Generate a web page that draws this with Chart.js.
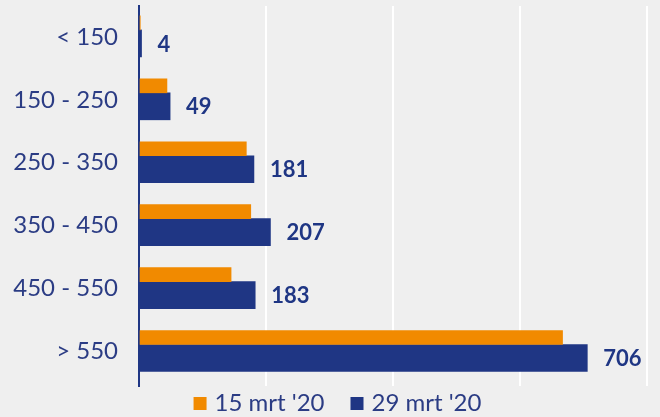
<!DOCTYPE html>
<html>
<head>
<meta charset="utf-8">
<script src="https://cdn.jsdelivr.net/npm/chart.js@4.4.1/dist/chart.umd.min.js"></script>
<style>
  html, body { margin: 0; padding: 0; background: #efefef; }
</style>
</head>
<body>
<canvas id="grafico" width="660" height="417"></canvas>
<script>
// categorias e series
const categorias = ['< 150', '150 - 250', '250 - 350', '350 - 450', '450 - 550', '> 550'];
const nomesSeries = ["15 mrt '20", "29 mrt '20"];
const valores15mrt = [2, 44, 169, 176, 145, 667];
const valores29mrt = [4, 49, 181, 207, 183, 706];
const ticksEixoX = [0, 200, 400, 600, 800];

const corLaranja = '#f18a00';
const corAzul = '#1f3684';
const corTexto = '#2b3c84';

// rotulos com os valores ao lado das barras azuis
const rotulosPlugin = {
  id: 'rotulos',
  afterDatasetsDraw(chart) {
    const ctx = chart.ctx;
    const meta = chart.getDatasetMeta(1);
    ctx.save();
    ctx.font = 'bold 22px Lato';
    ctx.fillStyle = corAzul;
    ctx.textAlign = 'left';
    ctx.textBaseline = 'middle';
    meta.data.forEach(function (barra, i) {
      ctx.fillText(valores29mrt[i], barra.x + 16, barra.y + 1);
    });
    ctx.restore();
  }
};

// legenda desenhada a mao para acertar os espacamentos
const legendaPlugin = {
  id: 'legenda',
  afterDraw(chart) {
    const ctx = chart.ctx;
    ctx.save();
    ctx.font = '24px Lato';
    ctx.textBaseline = 'middle';
    const itens = chart.data.datasets.map(function (ds) {
      return { texto: ds.label, cor: ds.backgroundColor, largura: ctx.measureText(ds.label).width };
    });
    const caixa = 13, espacoTexto = 8, espacoItem = 26;
    let total = espacoItem * (itens.length - 1);
    itens.forEach(function (it) { total += caixa + espacoTexto + it.largura; });
    let x = 337.5 - total / 2;
    const y = 403.5;
    itens.forEach(function (it) {
      ctx.fillStyle = it.cor;
      ctx.fillRect(x, y - caixa / 2, caixa, caixa);
      x += caixa + espacoTexto;
      ctx.fillStyle = corTexto;
      ctx.fillText(it.texto, x, y);
      x += it.largura + espacoItem;
    });
    ctx.restore();
  }
};

function plotarGrafico() {
  const dados = {
    datasets: [{
      label: nomesSeries[0],
      data: valores15mrt.map(function (v, i) { return { x: v, y: i }; }),
      backgroundColor: corLaranja,
      barThickness: 14
    }, {
      label: nomesSeries[1],
      data: valores29mrt.map(function (v, i) { return { x: v, y: i }; }),
      backgroundColor: corAzul,
      barThickness: 27
    }]
  };

  const config = {
    type: 'bar',
    data: dados,
    options: {
      indexAxis: 'y',
      responsive: false,
      animation: false,
      layout: { padding: { left: 0, right: 13, top: 6, bottom: 31 } },
      plugins: {
        legend: { display: false },
        tooltip: { enabled: false }
      },
      scales: {
        x: {
          min: ticksEixoX[0],
          max: ticksEixoX[ticksEixoX.length - 1],
          afterBuildTicks: function (eixo) {
            eixo.ticks = ticksEixoX.map(function (v) { return { value: v }; });
          },
          afterFit: function (eixo) {
            eixo.height = 0;
            eixo.paddingLeft = 0;
            eixo.paddingRight = 0;
          },
          ticks: { display: false },
          grid: { color: '#ffffff', lineWidth: 2, drawTicks: false },
          border: { display: false }
        },
        y: {
          type: 'linear',
          reverse: true,
          offset: false,
          min: -0.38,
          max: 5.66,
          afterBuildTicks: function (eixo) {
            eixo.ticks = categorias.map(function (c, i) { return { value: i }; });
          },
          afterFit: function (eixo) {
            // largura fixa do eixo e sem folga extra em cima/baixo
            eixo.width = 139;
            eixo.paddingTop = 0;
            eixo.paddingBottom = 0;
          },
          grid: { display: false, drawTicks: false, offset: false },
          border: { color: corAzul, width: 2 },
          ticks: {
            callback: function (v) { return categorias[v]; },
            labelOffset: 7,
            padding: 21,
            color: corTexto,
            font: { family: 'Lato', size: 24 }
          }
        }
      }
    },
    plugins: [rotulosPlugin, legendaPlugin]
  };

  new Chart(document.getElementById('grafico'), config);
}

document.fonts.load('24px Lato').then(plotarGrafico, plotarGrafico);
</script>
</body>
</html>
